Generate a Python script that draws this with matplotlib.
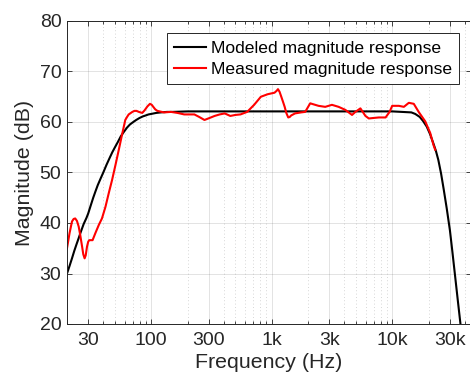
import numpy as np
import matplotlib
matplotlib.use('Agg')
import matplotlib.pyplot as plt
from matplotlib.ticker import FixedLocator, LogLocator, NullFormatter

plt.rcParams['font.family'] = ['Liberation Sans', 'DejaVu Sans']

# modeled response (black)
model_freq = [20, 21, 22, 23, 24, 25, 26, 27.5, 29, 30, 31.5, 33, 34.5, 36, 38, 40,
              42.5, 45, 47.5, 50, 53, 56, 59.5, 63, 66.5, 70, 75, 80, 85, 90, 95,
              100, 110, 120, 135, 150, 200, 1000, 10000, 14400, 15500, 16900, 18000,
              19300, 20500, 21900, 23000, 24100, 25400, 26700, 28300, 30100, 31500,
              33100, 35000, 37200, 40000]
model_db = [30.0, 31.5, 33.0, 34.5, 35.8, 37.0, 38.2, 39.8, 41.0, 41.9, 43.5, 45.0,
            46.3, 47.5, 48.8, 50.0, 51.5, 52.8, 54.0, 55.0, 56.1, 57.2, 58.1, 58.9,
            59.5, 59.9, 60.4, 60.8, 61.1, 61.3, 61.5, 61.6, 61.8, 61.9, 62.0, 62.0,
            62.1, 62.1, 62.1, 61.9, 61.6, 61.0, 60.2, 59.1, 57.7, 55.8, 54.3, 52.5,
            49.8, 46.7, 42.9, 38.5, 34.4, 29.8, 24.6, 19.0, 12.0]

# measured response (red)
meas_freq = [20, 21, 22, 22.7, 23.4, 24.2, 25, 25.8, 26.7, 27.3, 28, 28.6, 29.3, 30,
             30.6, 32.6, 34.4, 36.7, 39, 41.7, 44.4, 47.3, 50.5, 53.8, 57, 60.9, 63,
             65, 69.7, 72.5, 75.5, 79, 84.2, 88, 93, 97.6, 101, 104, 108, 112.5,
             127.8, 145.8, 165, 187.8, 227.9, 250, 276.5, 305, 335.6, 370, 407, 453,
             500, 550, 625, 714, 812, 925, 1054, 1100, 1126, 1160, 1200, 1240, 1280,
             1320, 1370, 1410, 1450, 1560, 1750, 1893, 2085, 2150, 2444, 2777, 3157,
             3588, 4078, 4635, 4942, 5440, 5990, 6390, 7000, 7740, 8800, 9500, 9983,
             11350, 12480, 13720, 15080, 16560, 18800, 20660, 22000, 22700]
meas_db = [35.0, 38.0, 40.3, 40.8, 40.9, 40.4, 39.3, 37.5, 35.3, 33.8, 33.0, 33.6,
           35.3, 36.3, 36.6, 36.6, 38.0, 39.6, 40.9, 43.2, 45.9, 48.5, 51.5, 54.5,
           57.3, 60.4, 61.0, 61.5, 62.0, 62.2, 62.2, 62.0, 61.8, 62.3, 63.1, 63.6,
           63.4, 63.0, 62.5, 62.2, 61.9, 62.0, 61.8, 61.5, 61.5, 61.0, 60.4, 60.8,
           61.2, 61.5, 61.7, 61.2, 61.4, 61.5, 62.0, 63.4, 65.0, 65.5, 65.8, 66.2,
           66.5, 66.0, 65.0, 64.0, 63.0, 61.8, 60.9, 61.0, 61.3, 61.7, 61.9, 62.0,
           63.7, 63.6, 63.2, 63.0, 63.4, 63.0, 62.4, 61.4, 62.0, 62.7, 61.2, 60.7,
           60.8, 60.9, 60.9, 62.0, 63.2, 63.2, 63.0, 63.8, 63.6, 62.0, 60.1, 57.8,
           55.4, 54.5]

xticks = [30, 100, 300, 1000, 3000, 10000, 30000]
xtick_labels = ['30', '100', '300', '1k', '3k', '10k', '30k']
yticks = [20, 30, 40, 50, 60, 70, 80]

dark = '#262626'

fig = plt.figure(figsize=(4.70, 3.81), dpi=100)
ax = fig.add_axes([67 / 470, 57 / 381, 404 / 470, 303 / 381])

ax.plot(model_freq, model_db, color='black', lw=1.5, solid_joinstyle='round',
        label='Modeled magnitude response')
ax.plot(meas_freq, meas_db, color='red', lw=1.5, solid_joinstyle='round',
        label='Measured magnitude response')

ax.set_xscale('log')
ax.set_xlim(20, 45000)
ax.set_ylim(20, 80)
ax.xaxis.set_major_locator(FixedLocator(xticks))
ax.set_xticklabels(xtick_labels)
ax.xaxis.set_minor_locator(LogLocator(base=10, subs=np.arange(2, 10)))
ax.xaxis.set_minor_formatter(NullFormatter())
ax.set_yticks(yticks)

ax.grid(True, which='major', color=dark, alpha=0.15, lw=0.6)
ax.grid(True, which='minor', axis='x', color=dark, alpha=0.25, lw=0.6, ls=(0, (1, 3)))

ax.tick_params(which='both', direction='in', top=True, right=True, colors=dark, width=0.6)
ax.tick_params(which='major', length=3.5, labelsize=14, pad=6)
ax.tick_params(which='minor', length=2)
ax.tick_params(axis='y', pad=4)
for s in ax.spines.values():
    s.set_color(dark)
    s.set_linewidth(0.7)

ax.set_xlabel('Frequency (Hz)', fontsize=15.4, color=dark, labelpad=3)
ax.set_ylabel('Magnitude (dB)', fontsize=15.4, color=dark, labelpad=4)

leg = ax.legend(loc='upper right', bbox_to_anchor=(0.971, 0.959), borderaxespad=0,
                fontsize=12.6, fancybox=False, handlelength=1.8, handletextpad=0.3,
                borderpad=0.4, labelspacing=0.35, framealpha=1)
leg.get_frame().set_edgecolor(dark)
leg.get_frame().set_linewidth(0.7)
for t in leg.get_texts():
    t.set_color('black')

fig.savefig('out.png', dpi=100)
